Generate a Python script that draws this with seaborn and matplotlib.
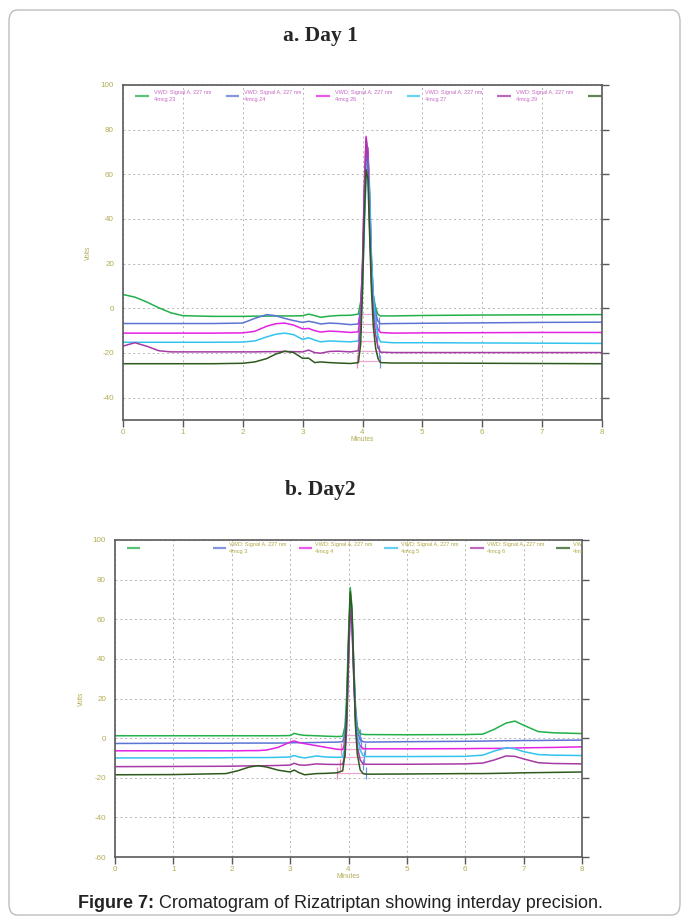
import matplotlib
matplotlib.use("Agg")
import matplotlib.pyplot as plt
from matplotlib.patches import FancyBboxPatch
import numpy as np
import pandas as pd
import seaborn as sns

sns.set_style("white")
plt.rcParams["font.family"] = ["Liberation Sans", "DejaVu Sans"]
plt.rcParams["axes.unicode_minus"] = False

# ---------------- Day 1 chromatograms (time in minutes, signal in volts) ----------------
day1_time = [0.0, 0.2, 0.4, 0.6, 0.8, 1.0, 1.5, 2.0, 2.2, 2.4, 2.55, 2.7, 2.85, 3.0, 3.1,
             3.2, 3.3, 3.45, 3.6, 3.8, 3.93, 3.97, 4.0, 4.03, 4.06, 4.09, 4.12, 4.15, 4.18,
             4.22, 4.26, 4.3, 4.5, 5.0, 6.0, 7.0, 8.0]
day1_mcg23 = [6.2, 5.0, 2.8, 0.2, -2.0, -3.3, -3.6, -3.6, -3.5, -3.5, -3.4, -3.4, -3.4, -3.3, -2.6,
              -3.2, -4.0, -3.5, -3.2, -3.1, -2.6, 3.0, 18.0, 45.0, 66.0, 70.0, 48.0, 20.0, 6.0,
              0.0, -2.8, -3.4, -3.4, -3.2, -3.0, -2.9, -2.8]
day1_mcg24 = [-6.8, -6.8, -6.8, -6.8, -6.8, -6.8, -6.8, -6.6, -4.5, -2.8, -3.3, -4.5, -5.5, -6.3, -5.8,
              -6.3, -7.0, -6.6, -6.8, -7.3, -7.0, 0.0, 16.0, 42.0, 65.0, 72.0, 52.0, 22.0, 6.0,
              -2.5, -5.8, -6.9, -6.8, -6.7, -6.5, -6.3, -6.2]
day1_mcg26 = [-11.1, -11.1, -11.1, -11.1, -11.1, -11.1, -11.1, -11.0, -10.3, -8.0, -6.9, -6.6, -7.5, -9.2, -9.0,
              -10.0, -10.6, -10.2, -10.4, -10.8, -10.5, -2.0, 20.0, 55.0, 77.0, 70.0, 42.0, 16.0, 3.0,
              -6.0, -9.5, -10.8, -11.1, -11.0, -10.9, -10.8, -10.8]
day1_mcg27 = [-15.2, -15.2, -15.2, -15.2, -15.2, -15.2, -15.2, -15.1, -14.6, -12.8, -11.6, -11.1, -11.8, -13.9, -13.2,
              -14.2, -15.0, -14.6, -14.8, -15.0, -14.6, -8.0, 8.0, 35.0, 58.0, 67.0, 50.0, 22.0, 6.0,
              -6.0, -12.5, -15.0, -15.4, -15.4, -15.5, -15.6, -15.7]
day1_mcg29 = [-16.9, -15.4, -17.0, -19.0, -19.5, -19.5, -19.5, -19.5, -19.5, -19.4, -19.4, -19.3, -19.4, -19.5, -18.7,
              -19.8, -20.1, -19.3, -19.2, -19.5, -19.0, -8.0, 18.0, 52.0, 76.0, 66.0, 36.0, 12.0, -2.0,
              -12.0, -17.5, -19.6, -19.8, -19.8, -19.8, -19.8, -19.8]
day1_blank = [-24.8, -24.8, -24.8, -24.8, -24.8, -24.8, -24.8, -24.6, -24.0, -22.5, -20.5, -19.2, -19.8, -22.4, -22.3,
              -24.3, -24.0, -24.3, -24.5, -24.7, -24.3, -16.0, 8.0, 40.0, 62.0, 58.0, 32.0, 8.0, -8.0,
              -18.0, -22.5, -24.3, -24.5, -24.5, -24.6, -24.7, -24.8]
day1_labels = ["4mcg 23", "4mcg 24", "4mcg 26", "4mcg 27", "4mcg 29", None]
# integration baseline (start, end, level) for each run
day1_int_start = [3.95, 3.94, 3.93, 3.94, 3.92, 3.91]
day1_int_end = [4.22, 4.27, 4.25, 4.24, 4.28, 4.29]
day1_int_level = [-2.5, -6.9, -10.8, -14.8, -19.2, -23.8]

# ---------------- Day 2 chromatograms ----------------
day2_time = [0.0, 1.0, 1.9, 2.1, 2.3, 2.45, 2.6, 2.8, 3.0, 3.07, 3.15, 3.25, 3.45, 3.6, 3.8, 3.9,
             3.94, 3.97, 4.0, 4.03, 4.06, 4.09, 4.12, 4.15, 4.2, 4.25, 4.3, 5.0, 6.0, 6.3, 6.5,
             6.7, 6.85, 7.0, 7.25, 7.5, 8.0]
day2_first = [1.2, 1.2, 1.2, 1.2, 1.2, 1.2, 1.2, 1.2, 1.3, 2.4, 1.8, 1.4, 1.2, 1.0, 0.8, 0.9,
              6.0, 22.0, 52.0, 76.0, 66.0, 38.0, 16.0, 6.0, 2.2, 1.9, 1.8, 1.7, 1.8, 2.0, 4.5,
              7.6, 8.6, 6.5, 3.3, 2.7, 2.3]
day2_mcg3 = [-2.7, -2.6, -2.6, -2.5, -2.5, -2.5, -2.5, -2.5, -2.4, -2.3, -2.3, -2.3, -2.2, -2.1, -2.0, -1.8,
             2.0, 16.0, 46.0, 70.0, 62.0, 36.0, 14.0, 4.0, -1.0, -1.8, -2.0, -1.8, -1.6, -1.5, -1.4,
             -1.3, -1.3, -1.2, -1.2, -1.1, -1.0]
day2_mcg4 = [-6.4, -6.4, -6.4, -6.4, -6.3, -6.3, -6.0, -4.6, -2.0, -1.4, -2.2, -2.8, -3.8, -4.6, -5.6, -5.8,
             -3.0, 10.0, 40.0, 66.0, 58.0, 32.0, 10.0, 0.0, -4.0, -5.2, -5.4, -5.4, -5.3, -5.2, -5.2,
             -5.1, -5.0, -4.9, -4.8, -4.7, -4.4]
day2_mcg5 = [-10.0, -10.0, -9.9, -9.8, -9.8, -9.8, -9.8, -9.7, -9.5, -8.8, -9.5, -10.0, -9.0, -9.5, -9.7, -9.6,
             -5.0, 10.0, 42.0, 68.0, 60.0, 34.0, 12.0, 1.0, -6.0, -8.8, -9.3, -9.3, -9.2, -8.6, -6.5,
             -4.9, -5.4, -6.8, -8.3, -8.6, -8.8]
day2_mcg6 = [-14.4, -14.3, -14.2, -14.1, -14.0, -14.0, -13.9, -13.8, -13.6, -12.7, -13.5, -13.7, -13.0, -13.2, -13.3, -13.2,
             -9.0, 5.0, 36.0, 65.0, 57.0, 30.0, 8.0, -4.0, -11.0, -13.0, -13.2, -13.2, -13.0, -12.6, -11.0,
             -9.0, -9.2, -10.5, -12.4, -12.8, -13.0]
day2_mcg7 = [-18.5, -18.4, -17.9, -16.5, -14.6, -13.9, -14.6, -16.2, -17.1, -16.1, -17.4, -18.5, -17.9, -17.8, -17.5, -16.5,
             -8.0, 14.0, 48.0, 74.0, 64.0, 34.0, 6.0, -8.0, -16.0, -17.9, -18.2, -18.1, -17.9, -17.9, -17.8,
             -17.7, -17.6, -17.5, -17.4, -17.3, -17.1]
day2_labels = [None, "4mcg 3", "4mcg 4", "4mcg 5", "4mcg 6", "4mcg 7"]
day2_int_start = [3.92, 3.9, 3.88, 3.9, 3.85, 3.8]
day2_int_end = [4.2, 4.22, 4.28, 4.26, 4.25, 4.3]
day2_int_level = [1.5, -2.2, -5.6, -9.6, -13.3, -17.6]

trace_colors = ["#22b04b", "#5b74d4", "#e322e3", "#33c3ef", "#a63aa6", "#2f5a1e"]
tick_color = "#b3ad55"
spine_color = "#5a5a5a"

W, H = 683, 923
fig = plt.figure(figsize=(W / 100, H / 100), dpi=100)


def px_rect(l, t, r, b):
    return [l / W, 1 - b / H, (r - l) / W, (b - t) / H]


def draw_panel(ax, time, runs, labels, int_start, int_end, int_level, ylim, yticks,
               legend_x0, legend_step, legend_y, legend_len, legend_text_dx, legend_text_color):
    names = [f"run{i}" for i in range(len(runs))]
    df = pd.concat([pd.DataFrame({"Minutes": time, "Volts": r, "run": n}) for r, n in zip(runs, names)],
                   ignore_index=True)
    sns.lineplot(data=df, x="Minutes", y="Volts", hue="run", hue_order=names,
                 palette=trace_colors, estimator=None, sort=False, legend=False,
                 linewidth=1.1, ax=ax)
    # integration baselines and event ticks
    for s, e, lv in zip(int_start, int_end, int_level):
        ax.hlines(lv, s, e, color="#e9a9d2", lw=0.9, zorder=1)
        ax.vlines(s, lv - 3, lv + 3, color="#e48cbc", lw=0.9, zorder=1)
        ax.vlines(e, lv - 3, lv + 3, color="#7191e2", lw=0.9, zorder=1)

    ax.set_xlim(0, 8)
    ax.set_ylim(*ylim)
    ax.set_xticks(range(0, 9))
    ax.set_yticks(yticks)
    ax.grid(True, linestyle=(0, (2, 3)), color="#b4b4b4", lw=0.7)
    ax.tick_params(axis="both", direction="out", length=5, width=1.0, color=spine_color,
                   labelcolor=tick_color, labelsize=5.8, pad=1.5)
    ax.tick_params(axis="y", right=True, labelright=False)
    ax.tick_params(axis="x", bottom=True)
    for sp in ax.spines.values():
        sp.set_visible(True)
        sp.set_color(spine_color)
        sp.set_linewidth(1.2)
    ax.set_xlabel("Minutes", fontsize=4.8, color=tick_color)
    ax.set_ylabel("Volts", fontsize=4.8, color=tick_color)

    # signal legend row along the top of the plot area
    for i, (c, lab) in enumerate(zip(trace_colors, labels)):
        x0 = legend_x0 + i * legend_step
        ax.plot([x0, x0 + legend_len], [legend_y, legend_y], transform=ax.transAxes,
                color=c, lw=1.6, alpha=0.75, clip_on=False, solid_capstyle="butt")
        if lab is not None:
            ax.text(x0 + legend_text_dx, legend_y, f"VWD: Signal A, 227 nm\n{lab}",
                    transform=ax.transAxes, fontsize=4.0, color=legend_text_color,
                    ha="left", va="center", linespacing=1.5, clip_on=True)


# Day 1 panel
axA = fig.add_axes(px_rect(123, 85, 602, 420))
draw_panel(axA, day1_time,
           [day1_mcg23, day1_mcg24, day1_mcg26, day1_mcg27, day1_mcg29, day1_blank],
           day1_labels, day1_int_start, day1_int_end, day1_int_level,
           (-50, 100), list(range(-40, 101, 20)),
           legend_x0=0.025, legend_step=0.189, legend_y=0.967, legend_len=0.029,
           legend_text_dx=0.039, legend_text_color="#c468c4")
axA.yaxis.set_label_coords(-(123 - 92) / 479, 0.5)
axA.xaxis.set_label_coords(0.5, -16 / 335)

# Day 2 panel
axB = fig.add_axes(px_rect(115, 540, 582, 857))
draw_panel(axB, day2_time,
           [day2_first, day2_mcg3, day2_mcg4, day2_mcg5, day2_mcg6, day2_mcg7],
           day2_labels, day2_int_start, day2_int_end, day2_int_level,
           (-60, 100), list(range(-60, 101, 20)),
           legend_x0=0.025, legend_step=0.184, legend_y=0.975, legend_len=0.029,
           legend_text_dx=0.035, legend_text_color="#b0a843")
axB.yaxis.set_label_coords(-(115 - 85) / 467, 0.5)
axB.xaxis.set_label_coords(0.5, -16 / 317)

# panel titles
fig.text(320 / W, 1 - 36 / H, "a. Day 1", ha="center", va="center",
         family=["Liberation Serif", "DejaVu Serif"], weight="bold", fontsize=15.5)
fig.text(320 / W, 1 - 490 / H, "b. Day2", ha="center", va="center",
         family=["Liberation Serif", "DejaVu Serif"], weight="bold", fontsize=15.5)

# caption
renderer = fig.canvas.get_renderer()
cap_y = 1 - 903 / H
t_bold = fig.text(78 / W, cap_y, "Figure 7:", ha="left", va="center", weight="bold",
                  fontsize=13, color="#222222")
bb = t_bold.get_window_extent(renderer)
fig.text(bb.x1 / W, cap_y, " Cromatogram of Rizatriptan showing interday precision.",
         ha="left", va="center", fontsize=13, color="#222222")

# outer frame
frame = FancyBboxPatch((9 / W, 1 - 915 / H), (680 - 9) / W, (915 - 10) / H,
                       boxstyle="round,pad=0,rounding_size=0.012",
                       transform=fig.transFigure, facecolor="none",
                       edgecolor="#bdbdbd", lw=1.0)
fig.patches.append(frame)

fig.savefig("out.png", dpi=100)
